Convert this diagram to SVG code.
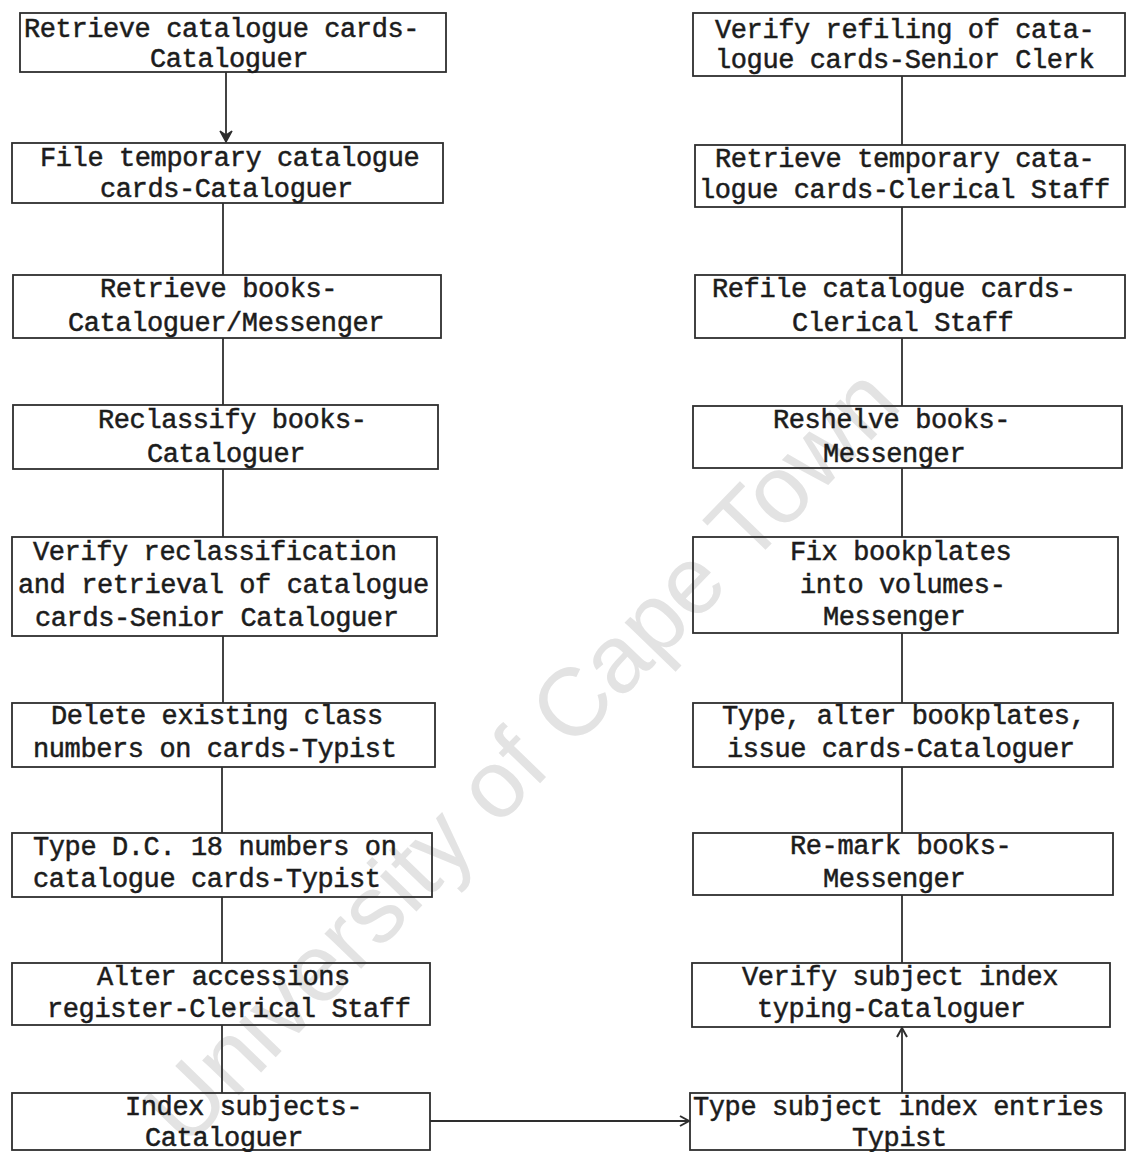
<svg xmlns="http://www.w3.org/2000/svg" width="1130" height="1152" viewBox="0 0 1130 1152">
  <defs>
    <style>
      .box { fill: none; stroke: #2e2e2e; stroke-width: 1.8; }
      .lbl { font-family: "Liberation Mono", "Courier New", monospace; font-size: 27px; letter-spacing: -0.4px; fill: #1c1c1c; stroke: #1c1c1c; stroke-width: 0.5; }
      .wire { fill: none; stroke: #2e2e2e; stroke-width: 1.8; }
      .mark { font-family: "Liberation Sans", Arial, sans-serif; font-size: 96px; fill: #e3e3e3; }
    </style>
    <marker id="chev" markerWidth="14" markerHeight="14" refX="10" refY="6" orient="auto" markerUnits="userSpaceOnUse">
      <path d="M1,1 L10,6 L1,11" fill="none" stroke="#2e2e2e" stroke-width="2"/>
    </marker>
    <marker id="chevBold" markerWidth="16" markerHeight="16" refX="12" refY="7" orient="auto" markerUnits="userSpaceOnUse">
      <path d="M1,1 L12,7 L1,13 L5,7 Z" fill="#2e2e2e" stroke="#2e2e2e" stroke-width="1.5"/>
    </marker>
  </defs>

  <rect width="1130" height="1152" fill="#ffffff"/>

  <!-- faint institutional watermark -->
  <text class="mark" x="0" y="0" transform="translate(186,1150) rotate(-46)">University of Cape Town</text>

  <!-- connectors -->
  <g id="connectors">
    <line class="wire" x1="226" y1="72" x2="226" y2="142" marker-end="url(#chevBold)"/>
    <line class="wire" x1="223" y1="203" x2="223" y2="275"/>
    <line class="wire" x1="223" y1="338" x2="223" y2="405"/>
    <line class="wire" x1="223" y1="469" x2="223" y2="537"/>
    <line class="wire" x1="223" y1="636" x2="223" y2="703"/>
    <line class="wire" x1="222" y1="767" x2="222" y2="833"/>
    <line class="wire" x1="222" y1="897" x2="222" y2="963"/>
    <line class="wire" x1="222" y1="1025" x2="222" y2="1093"/>
    <line class="wire" x1="430" y1="1121" x2="689" y2="1121" marker-end="url(#chev)"/>
    <line class="wire" x1="902" y1="1093" x2="902" y2="1028" marker-end="url(#chev)"/>
    <line class="wire" x1="902" y1="963" x2="902" y2="895"/>
    <line class="wire" x1="902" y1="833" x2="902" y2="767"/>
    <line class="wire" x1="902" y1="703" x2="902" y2="633"/>
    <line class="wire" x1="902" y1="537" x2="902" y2="468"/>
    <line class="wire" x1="902" y1="406" x2="902" y2="338"/>
    <line class="wire" x1="902" y1="275" x2="902" y2="207"/>
    <line class="wire" x1="902" y1="145" x2="902" y2="76"/>
  </g>

  <!-- left column -->
  <g id="retrieve-cards">
    <rect class="box" x="20" y="13" width="426" height="59"/>
    <text class="lbl" x="24" y="37">Retrieve catalogue cards-</text>
    <text class="lbl" x="150" y="67">Cataloguer</text>
  </g>
  <g id="file-temporary">
    <rect class="box" x="12" y="143" width="431" height="60"/>
    <text class="lbl" x="40" y="166">File temporary catalogue</text>
    <text class="lbl" x="100" y="197">cards-Cataloguer</text>
  </g>
  <g id="retrieve-books">
    <rect class="box" x="13" y="275" width="428" height="63"/>
    <text class="lbl" x="100" y="297">Retrieve books-</text>
    <text class="lbl" x="68" y="331">Cataloguer/Messenger</text>
  </g>
  <g id="reclassify">
    <rect class="box" x="13" y="405" width="425" height="64"/>
    <text class="lbl" x="98" y="428">Reclassify books-</text>
    <text class="lbl" x="147" y="462">Cataloguer</text>
  </g>
  <g id="verify-reclass">
    <rect class="box" x="12" y="537" width="425" height="99"/>
    <text class="lbl" x="33" y="560">Verify reclassification</text>
    <text class="lbl" x="18" y="593">and retrieval of catalogue</text>
    <text class="lbl" x="35" y="626">cards-Senior Cataloguer</text>
  </g>
  <g id="delete-class">
    <rect class="box" x="12" y="703" width="423" height="64"/>
    <text class="lbl" x="51" y="724">Delete existing class</text>
    <text class="lbl" x="33" y="757">numbers on cards-Typist</text>
  </g>
  <g id="type-dc18">
    <rect class="box" x="12" y="833" width="420" height="64"/>
    <text class="lbl" x="33" y="855">Type D.C. 18 numbers on</text>
    <text class="lbl" x="33" y="887">catalogue cards-Typist</text>
  </g>
  <g id="alter-register">
    <rect class="box" x="12" y="963" width="418" height="62"/>
    <text class="lbl" x="97" y="985">Alter accessions</text>
    <text class="lbl" x="47" y="1017">register-Clerical Staff</text>
  </g>
  <g id="index-subjects">
    <rect class="box" x="12" y="1093" width="418" height="57"/>
    <text class="lbl" x="125" y="1115">Index subjects-</text>
    <text class="lbl" x="145" y="1146">Cataloguer</text>
  </g>

  <!-- right column -->
  <g id="verify-refiling">
    <rect class="box" x="693" y="13" width="432" height="63"/>
    <text class="lbl" x="715" y="38">Verify refiling of cata-</text>
    <text class="lbl" x="715" y="68">logue cards-Senior Clerk</text>
  </g>
  <g id="retrieve-temporary">
    <rect class="box" x="695" y="145" width="430" height="62"/>
    <text class="lbl" x="715" y="167">Retrieve temporary cata-</text>
    <text class="lbl" x="699" y="198">logue cards-Clerical Staff</text>
  </g>
  <g id="refile-cards">
    <rect class="box" x="695" y="275" width="430" height="63"/>
    <text class="lbl" x="712" y="297">Refile catalogue cards-</text>
    <text class="lbl" x="792" y="331">Clerical Staff</text>
  </g>
  <g id="reshelve">
    <rect class="box" x="693" y="406" width="429" height="62"/>
    <text class="lbl" x="773" y="428">Reshelve books-</text>
    <text class="lbl" x="823" y="462">Messenger</text>
  </g>
  <g id="fix-bookplates">
    <rect class="box" x="693" y="537" width="425" height="96"/>
    <text class="lbl" x="790" y="560">Fix bookplates</text>
    <text class="lbl" x="800" y="593">into volumes-</text>
    <text class="lbl" x="823" y="625">Messenger</text>
  </g>
  <g id="type-bookplates">
    <rect class="box" x="693" y="703" width="420" height="64"/>
    <text class="lbl" x="722" y="724">Type, alter bookplates,</text>
    <text class="lbl" x="727" y="757">issue cards-Cataloguer</text>
  </g>
  <g id="re-mark">
    <rect class="box" x="693" y="833" width="420" height="62"/>
    <text class="lbl" x="790" y="854">Re-mark books-</text>
    <text class="lbl" x="823" y="887">Messenger</text>
  </g>
  <g id="verify-index">
    <rect class="box" x="692" y="963" width="418" height="64"/>
    <text class="lbl" x="742" y="985">Verify subject index</text>
    <text class="lbl" x="757" y="1017">typing-Cataloguer</text>
  </g>
  <g id="type-index">
    <rect class="box" x="690" y="1093" width="435" height="57"/>
    <text class="lbl" x="693" y="1115">Type subject index entries</text>
    <text class="lbl" x="852" y="1146">Typist</text>
  </g>
</svg>
